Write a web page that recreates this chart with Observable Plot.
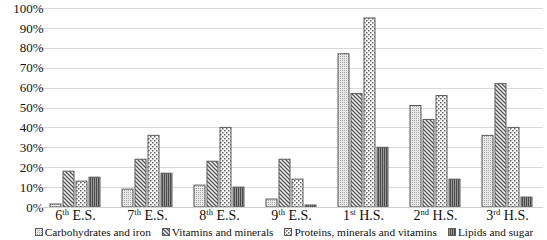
<!DOCTYPE html>
<html><head><meta charset="utf-8">
<script src="https://cdn.jsdelivr.net/npm/d3@7"></script>
<script src="https://cdn.jsdelivr.net/npm/@observablehq/plot@0.6"></script>
<style>
body{margin:0;background:#fff;font-family:"Liberation Serif",serif;}
#chart svg{display:block;overflow:visible;}
#legend{display:flex;justify-content:center;gap:11px;font-size:11.3px;height:16px;align-items:center;color:#111;white-space:nowrap;padding-left:21px;}
#legend .item{display:flex;align-items:center;gap:2px;}
#legend svg{display:block;}
</style></head><body>
<svg width="0" height="0" style="position:absolute"><defs>
  <pattern id="p0" width="2" height="2" patternUnits="userSpaceOnUse">
    <rect width="2" height="2" fill="#e8e8e8"/><rect width="1" height="1" fill="#a8a8a8"/>
  </pattern>
  <pattern id="p1" width="4" height="4" patternUnits="userSpaceOnUse">
    <rect width="4" height="4" fill="#f4f4f4"/><path d="M-1,-1L5,5M-1,3L1,5M3,-1L5,1" stroke="#555" stroke-width="1.3"/>
  </pattern>
  <pattern id="p2" width="4" height="4" patternUnits="userSpaceOnUse">
    <rect width="4" height="4" fill="#fafafa"/><rect x="0" y="0" width="1.5" height="1.5" fill="#666"/><rect x="2" y="2" width="1.5" height="1.5" fill="#666"/>
  </pattern>
  <pattern id="p3" width="2" height="2" patternUnits="userSpaceOnUse">
    <rect width="2" height="2" fill="#9a9a9a"/><rect width="1" height="2" fill="#4a4a4a"/>
  </pattern>
</defs></svg>
<div id="chart"></div>
<div id="legend"></div>
<script>
const categories = ["6th E.S.", "7th E.S.", "8th E.S.", "9th E.S.", "1st H.S.", "2nd H.S.", "3rd H.S."];
const series = ["Carbohydrates and iron", "Vitamins and minerals", "Proteins, minerals and vitamins", "Lipids and sugar"];
const carbohydrates = [1.5, 9, 11, 4, 77, 51, 36];
const vitamins = [18, 24, 23, 24, 57, 44, 62];
const proteins = [13, 36, 40, 14, 95, 56, 40];
const lipids = [15, 17, 10, 1, 30, 14, 5];
const yTicks = [0, 10, 20, 30, 40, 50, 60, 70, 80, 90, 100];
const patterns = ["url(#p0)", "url(#p1)", "url(#p2)", "url(#p3)"];

const FONT = '"Liberation Serif",serif';
const valuesBySeries = [carbohydrates, vitamins, proteins, lipids];
const rows = [];
categories.forEach((c, i) => series.forEach((s, j) => rows.push({category: c, series: s, value: valuesBySeries[j][i]})));

const W = 547, H = 224, ML = 39, MR = 4;
const chart = Plot.plot({
  width: W, height: H,
  marginLeft: ML, marginRight: MR, marginTop: 8, marginBottom: 17,
  style: {fontFamily: FONT, fontSize: "13px", color: "#111", background: "#fff", overflow: "visible"},
  fx: {domain: categories, paddingInner: 0.28, paddingOuter: 0.14, label: null, tickSize: 0, tickPadding: 3},
  x: {domain: series, paddingInner: 0.19, paddingOuter: 0, axis: null},
  y: {domain: [0, 100], ticks: yTicks, tickFormat: d => d + "%", label: null, tickSize: 0, tickPadding: 6},
  color: {domain: series, range: patterns},
  marks: [
    Plot.barY(rows, {fx: "category", x: "series", y: "value", fill: "series", stroke: "#5a5a5a", strokeWidth: 1})
  ]
});

const yScale = chart.scale("y");
const svg = d3.select(chart);
const grid = svg.insert("g", ":first-child").attr("stroke", "#d9d9d9").attr("stroke-width", 1);
yTicks.slice(1).forEach(t => {
  const yy = Math.round(yScale.apply(t)) + 0.5;
  grid.append("line").attr("x1", ML).attr("x2", W - MR).attr("y1", yy).attr("y2", yy);
});
{
  const yy = Math.round(yScale.apply(0)) + 0.5;
  svg.append("line").attr("x1", ML).attr("x2", W - MR).attr("y1", yy).attr("y2", yy).attr("stroke", "#d0d0d0");
}
svg.insert("rect", ":first-child").attr("width", W).attr("height", H).attr("fill", "#fff");

svg.selectAll("text").each(function() {
  const t = this.textContent;
  const m = /^(\d+)(st|nd|rd|th) (.*)$/.exec(t);
  if (!m) return;
  const el = d3.select(this);
  el.text(null).style("font-size", "14px");
  el.append("tspan").text(m[1]);
  el.append("tspan").text(m[2]).attr("font-size", "8.5px").attr("dy", "-5");
  el.append("tspan").text("\u00a0" + m[3]).attr("dy", "5");
});

document.getElementById("chart").appendChild(chart);

const legend = document.getElementById("legend");
series.forEach((s, i) => {
  const item = document.createElement("div");
  item.className = "item";
  item.innerHTML = `<svg width="8" height="8"><rect x="0.5" y="0.5" width="7" height="7" fill="${patterns[i]}" stroke="#5a5a5a"/></svg><span>${s}</span>`;
  legend.appendChild(item);
});
</script>
</body></html>
